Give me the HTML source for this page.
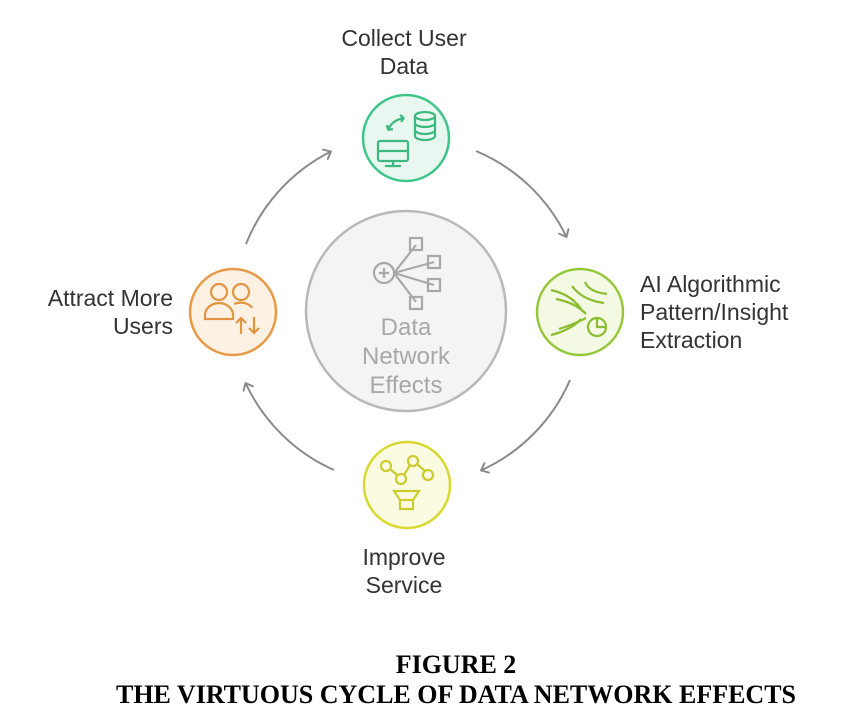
<!DOCTYPE html>
<html><head><meta charset="utf-8"><style>
body{margin:0;background:#fff;}
svg{display:block}
</style></head><body>
<svg width="862" height="717" viewBox="0 0 862 717" xmlns="http://www.w3.org/2000/svg" font-family="Liberation Sans, sans-serif">
<defs>
<marker id="ah" markerWidth="12" markerHeight="12" refX="6" refY="6" orient="auto" markerUnits="userSpaceOnUse">
<path d="M0,0 L7,6 L0,12" fill="none" stroke="#8a8a8a" stroke-width="2"/>
</marker>
</defs>
<g fill="none" stroke="#8a8a8a" stroke-width="2">
<path d="M246,244 A176,176 0 0 1 330,152" marker-end="url(#ah)"/>
<path d="M476,151 A176,176 0 0 1 566,236" marker-end="url(#ah)"/>
<path d="M570,380 A176,176 0 0 1 482,470" marker-end="url(#ah)"/>
<path d="M334,470 A176,176 0 0 1 246,384" marker-end="url(#ah)"/>
</g>
<!-- center -->
<circle cx="406" cy="311" r="100" fill="#f4f4f4" stroke="#b8b8b8" stroke-width="2.5"/>
<g fill="none" stroke="#a8a8a8" stroke-width="2.2">
<circle cx="384" cy="273" r="10"/>
<path d="M379,273h10M384,268v10"/>
<path d="M394,273 L416,245 M394,273 L434,262 M394,273 L434,285 M394,273 L416,302"/>
<rect x="410" y="238" width="12" height="12"/><rect x="428" y="256" width="12" height="12"/>
<rect x="428" y="279" width="12" height="12"/><rect x="410" y="297" width="12" height="12"/>
</g>
<g fill="#a8a8a8" font-size="24" text-anchor="middle">
<text x="406" y="335">Data</text><text x="406" y="364">Network</text><text x="406" y="393">Effects</text>
</g>
<!-- top -->
<circle cx="406" cy="138" r="43" fill="#e8f7ef" stroke="#3fc48a" stroke-width="2.5"/>
<g fill="none" stroke="#3fb880" stroke-width="2.2">
<rect x="378" y="141" width="30" height="20" rx="2"/><path d="M378,151h30M393,161v4M385,166h16"/>
<ellipse cx="425" cy="116" rx="10" ry="4"/><path d="M415,116v20a10,4 0 0 0 20,0v-20M415,123a10,4 0 0 0 20,0M415,130a10,4 0 0 0 20,0"/>
<path d="M388,130 q4,-10 16,-12 M404,118l-4,-3M404,118l-3,4 M388,130l-1,-5M388,130l5,-1"/>
</g>
<!-- right -->
<circle cx="580" cy="312" r="43" fill="#f3f9e3" stroke="#96c83c" stroke-width="2.5"/>
<g fill="none" stroke="#8cbc30" stroke-width="2.2">
<path d="M551,290 q22,5 32,22 M556,299 q20,4 30,15 M551,335 q20,-5 30,-16 M559,329 q16,-5 27,-11 M585,282 q4,10 22,12 M572,286 q10,14 32,17"/>
<circle cx="597" cy="327" r="9"/><path d="M597,318v9h9"/>
</g>
<!-- bottom -->
<circle cx="407" cy="485" r="43" fill="#fbfbe2" stroke="#d8d830" stroke-width="2.5"/>
<g fill="none" stroke="#cccc30" stroke-width="2.2">
<circle cx="386" cy="466" r="5"/><circle cx="401" cy="479" r="5"/><circle cx="413" cy="461" r="5"/><circle cx="428" cy="475" r="5"/>
<path d="M390,469l7,6M404,475l6,-10M417,464l8,7"/>
<path d="M394,491h25l-6,9h-13z M400,500v9h13v-9"/>
</g>
<!-- left -->
<circle cx="233" cy="312" r="43" fill="#fdf1e4" stroke="#e69a45" stroke-width="2.5"/>
<g fill="none" stroke="#e39440" stroke-width="2.2">
<circle cx="219" cy="292" r="8"/><circle cx="241" cy="292" r="8"/>
<path d="M205,319v-4a13,11 0 0 1 28,0v4z"/><path d="M234,304a12,8 0 0 1 18,4"/>
<path d="M241,334v-16M236,323l5,-5l5,5 M254,317v16M249,328l5,5l5,-5"/>
</g>
<!-- labels -->
<g fill="#333" font-size="23">
<text x="404" y="46" text-anchor="middle">Collect User</text>
<text x="404" y="74" text-anchor="middle">Data</text>
<text x="640" y="292">AI Algorithmic</text>
<text x="640" y="320">Pattern/Insight</text>
<text x="640" y="348">Extraction</text>
<text x="173" y="306" text-anchor="end">Attract More</text>
<text x="173" y="334" text-anchor="end">Users</text>
<text x="404" y="565" text-anchor="middle">Improve</text>
<text x="404" y="593" text-anchor="middle">Service</text>
</g>
<g fill="#000" font-family="Liberation Serif, serif" font-weight="bold" font-size="26" text-anchor="middle">
<text x="456" y="673">FIGURE 2</text>
<text x="456" y="703">THE VIRTUOUS CYCLE OF DATA NETWORK EFFECTS</text>
</g>
</svg>
</body></html>
